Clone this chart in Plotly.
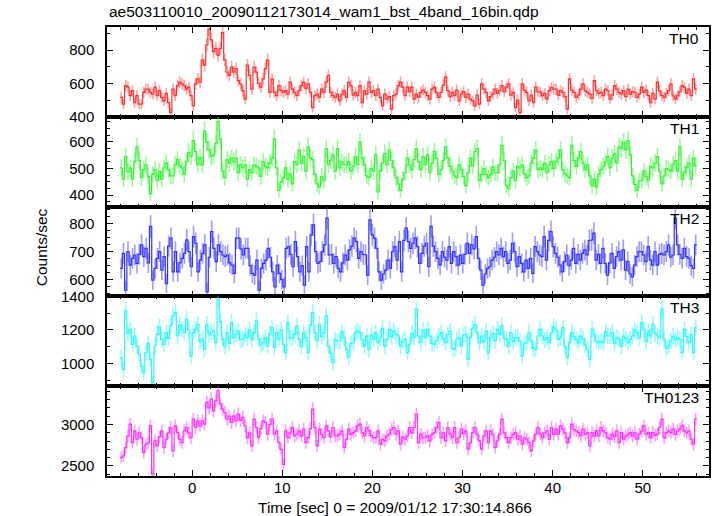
import math
import plotly.graph_objects as go

# ---------------- data (0.25 s bins, -8 s .. 56 s) ----------------
T_START = -8.0
T_END = 56.0
ERR_EXPOSURE = 0.5   # effective exposure (s) used for the Poisson error bars

TH0 = [516, 475, 587, 577, 526, 556, 485, 526, 475, 475,
       546, 566, 566, 546, 536, 577, 526, 556, 516, 495, 540,
       485, 424, 566, 526, 587, 607, 597, 587, 566, 577,
       526, 465, 597, 627, 607, 739, 709, 830, 925, 861,
       790, 810, 769, 810, 905, 739, 668, 648, 698, 668,
       688, 617, 597, 556, 506, 709, 648, 566, 698, 668, 600,
       577, 627, 688, 739, 546, 627, 546, 526, 587, 556,
       546, 556, 536, 607, 566, 546, 526, 556, 587, 607, 570,
       597, 546, 455, 526, 536, 516, 566, 546, 607, 648,
       546, 526, 516, 536, 495, 536, 556, 516, 607, 587, 530,
       546, 526, 587, 485, 556, 536, 607, 546, 556, 526,
       566, 516, 465, 536, 506, 520, 445, 526, 536, 587, 607,
       577,
       526, 577, 550, 577, 506, 535, 516, 546, 560, 546, 526, 505,
       566, 577, 545, 516, 546, 590, 637, 556, 520, 546, 526, 560,
       495, 536, 550, 516, 536, 505, 495, 465, 530, 475, 597, 565,
       546, 495, 520, 536, 566, 540, 556, 587, 550, 577, 597, 530,
       546, 455, 500, 424, 597, 560, 546, 495, 530, 485, 577, 550,
       546, 526, 540, 506, 556, 575, 566, 566, 530, 556, 546, 520,
       445, 627, 560, 546, 516, 530, 566, 597, 555, 546, 536, 510,
       617, 556, 540, 546, 526, 565, 556, 506, 530, 587, 566, 545,
       536, 556, 520, 566, 536, 550, 546, 516, 535, 577, 546, 560,
       526, 485, 540, 506, 607, 555, 526, 516, 540, 556, 597, 525,
       506, 526, 550, 587, 577, 540, 566, 526, 627, 566]

TH1 = [502, 460, 545, 488, 502, 460, 526, 581, 530, 466, 496, 514, 470,
       406, 478, 496, 454, 490, 460, 502, 520, 495, 472, 472, 514, 533, 510,
       502, 478, 526, 560, 545, 605, 563, 514, 540, 514, 641, 599, 570,
       545, 551, 593, 677, 610, 490, 466, 533, 520, 539, 526, 539, 484, 515,
       502, 514, 460, 496, 484, 514, 508, 502, 470, 526, 508, 502, 520,
       539, 611, 502, 418, 450, 466, 502, 460, 480, 442, 526, 514, 569, 520,
       545, 490, 581, 540, 533, 478, 442, 430, 470, 454, 575, 514, 530,
       551, 490, 575, 502, 525, 514, 514, 526, 490, 508, 545, 514, 599, 540,
       514, 472, 466, 500, 490, 551, 412, 490, 520, 557, 514, 569, 530,
       502, 466, 442, 418, 460, 484, 539, 514, 495, 533, 575, 526, 496, 545,
       514, 551, 484, 520, 563, 539, 478, 496, 530, 581, 539, 508, 490,
       472, 466, 514, 496, 470, 436, 484, 539, 510, 563, 575, 454, 478, 500,
       478, 466, 478, 505, 484, 484, 514, 587, 530, 436, 424, 466, 490,
       454, 508, 502, 514, 480, 466, 472, 520, 540, 569, 496, 502, 496, 520,
       484, 514, 526, 500, 526, 539, 569, 496, 480, 472, 466, 587, 530,
       508, 539, 563, 520, 495, 514, 472, 436, 460, 430, 478, 496, 508, 525,
       545, 502, 539, 555, 520, 581, 575, 599, 570, 605, 551, 472, 440,
       418, 454, 454, 490, 470, 454, 508, 502, 520, 545, 490, 442, 472, 500,
       496, 490, 514, 530, 490, 581, 460, 484, 505, 520, 460, 539, 510]

TH2 = [640, 694, 562, 700, 652, 676, 688, 658, 690, 724, 682, 712, 660,
       790, 598, 640, 676, 700, 634, 682, 586, 720, 748, 628, 700, 628, 660,
       676, 694, 742, 700, 646, 754, 730, 628, 670, 694, 724, 556, 680,
       772, 712, 664, 724, 700, 688, 682, 688, 660, 652, 622, 748, 748, 710,
       688, 712, 712, 650, 622, 616, 670, 562, 640, 658, 670, 712, 680,
       628, 574, 652, 622, 600, 574, 712, 718, 690, 646, 736, 682, 628, 650,
       580, 718, 628, 760, 796, 700, 658, 664, 700, 724, 820, 688, 690,
       658, 682, 640, 628, 660, 688, 670, 706, 720, 748, 736, 676, 700, 690,
       688, 616, 814, 760, 748, 712, 628, 598, 620, 634, 670, 640, 700,
       718, 670, 736, 628, 740, 784, 736, 712, 730, 748, 718, 658, 694, 720,
       730, 646, 790, 720, 700, 676, 652, 700, 680, 670, 718, 658, 700,
       682, 652, 688, 658, 690, 730, 694, 724, 710, 754, 676, 634, 580, 620,
       640, 646, 670, 680, 700, 688, 712, 682, 700, 658, 670, 730, 700,
       646, 682, 658, 628, 670, 640, 676, 622, 718, 700, 688, 682, 754, 670, 740,
       772, 718, 694, 680, 652, 628, 664, 688, 650, 670, 712, 658, 690,
       670, 694, 706, 688, 740, 742, 766, 670, 690, 658, 712, 658, 616, 660,
       694, 640, 682, 700, 670, 706, 634, 664, 620, 610, 652, 682, 700,
       700, 688, 664, 718, 670, 652, 700, 652, 690, 694, 688, 700, 724, 680,
       688, 820, 724, 690, 676, 712, 682, 676, 650, 640, 724]

TH3 = [1034, 964, 1314, 1180, 1204, 1114, 1164, 1104, 1060, 984, 944, 1064, 1120,
       1024, 884, 1104, 1174, 1220, 1144, 1114, 1184, 1150, 1224, 1284, 1304, 1164, 1230,
       1204, 1184, 1264, 1200, 1044, 1184, 1204, 1234, 1130, 1144, 1084, 1234, 1170,
       1184, 1194, 1124, 1384, 1250, 1144, 1104, 1184, 1120, 1244, 1154, 1174, 1194, 1140,
       1144, 1174, 1154, 1200, 1144, 1184, 1254, 1144, 1110, 1124, 1154, 1104, 1180,
       1214, 1094, 1184, 1144, 1200, 1114, 1064, 1244, 1150, 1154, 1174, 1224, 1144, 1100,
       1184, 1154, 1064, 1230, 1304, 1184, 1134, 1234, 1160, 1184, 1284, 1104, 1060,
       1004, 1144, 1134, 1134, 1190, 1154, 1084, 1034, 1120, 1124, 1184, 1194, 1184, 1140,
       1104, 1164, 1084, 1170, 1144, 1184, 1124, 1154, 1210, 1104, 1144, 1204, 1160,
       1194, 1174, 1164, 1104, 1130, 1144, 1064, 1114, 1180, 1154, 1324, 1164, 1124, 1200,
       1154, 1204, 1164, 1120, 1114, 1134, 1164, 1184, 1150, 1124, 1174, 1194, 1090,
       1084, 1144, 1154, 1104, 1170, 1174, 1024, 1154, 1210, 1234, 1184, 1124, 1164, 1130,
       1194, 1064, 1154, 1180, 1134, 1204, 1174, 1224, 1150, 1144, 1104, 1184, 1130,
       1154, 1154, 1134, 1044, 1120, 1124, 1184, 1134, 1090, 1084, 1164, 1204, 1164, 1140,
       1154, 1124, 1184, 1220, 1204, 1144, 1154, 1214, 1100, 1034, 1124, 1184, 1160,
       1144, 1124, 1164, 1144, 1110, 1084, 1024, 1204, 1170, 1134, 1124, 1134, 1124, 1190,
       1164, 1164, 1184, 1120, 1154, 1144, 1104, 1164, 1150, 1124, 1144, 1164, 1200,
       1184, 1154, 1244, 1204, 1130, 1194, 1164, 1234, 1180, 1164, 1154, 1324, 1144, 1090,
       1104, 1134, 1164, 1140, 1154, 1144, 1064, 1204, 1160, 1124, 1174, 1064, 1214]

TH0123 = [2601, 2621, 2722, 2860, 3004, 2782, 2923, 2823, 2900, 2843, 2661, 2762, 2780,
          2984, 2400, 2803, 2742, 2850, 2923, 2722, 2823, 2900, 2964, 2682, 2984, 2903, 2820,
          2782, 2923, 2964, 2900, 2843, 3064, 2964, 3044, 2980, 3044, 3004, 3266, 3200,
          3306, 3165, 3286, 3407, 3250, 3185, 3145, 3064, 3100, 3024, 3105, 3044, 3125, 3050,
          3085, 2984, 2843, 2900, 2742, 3064, 2964, 2843, 2950, 3044, 3024, 2883, 3000,
          3064, 2883, 2923, 2782, 2700, 2520, 2923, 2843, 2900, 2964, 2863, 2883, 2923, 2860,
          2944, 2782, 2843, 2950, 3185, 2964, 2742, 2944, 2880, 2843, 2984, 2923, 2850,
          2964, 2863, 2863, 2883, 2920, 2722, 2823, 2944, 2880, 2903, 2923, 2984, 3004, 2900,
          2863, 2964, 2923, 2870, 2843, 2843, 2923, 2762, 2820, 2803, 2863, 2883, 2940,
          2964, 2883, 2923, 2762, 2850, 2823, 2863, 2964, 2900, 2964, 3125, 2782, 2883, 2840,
          2843, 2863, 2803, 2880, 2903, 2964, 3024, 2843, 2900, 2803, 2964, 2883, 2840,
          2964, 2782, 2843, 2944, 2890, 2923, 2702, 2782, 2900, 2964, 2883, 2803, 2702, 2860,
          2923, 2782, 2923, 2880, 2722, 2803, 2883, 3064, 2900, 2843, 2782, 2843, 2880,
          2903, 2823, 2863, 2762, 2840, 2823, 2782, 2682, 2800, 2883, 2964, 2883, 2843, 2900,
          2923, 2823, 2964, 2880, 2944, 2883, 2984, 2944, 2900, 2782, 2843, 3004, 2940,
          2923, 2903, 2863, 2944, 2880, 2903, 2742, 2903, 2860, 2923, 2863, 2964, 2923, 2900,
          2843, 2823, 2883, 2850, 2923, 2782, 2903, 2823, 2860, 2883, 2903, 2863, 2900,
          2823, 2883, 2923, 2984, 2880, 2903, 2843, 2903, 2870, 2883, 2964, 3064, 2843, 2900,
          2923, 2903, 2944, 2880, 2923, 2944, 2984, 2923, 2900, 2923, 2823, 2762, 3064]

PANELS = ["TH0", "TH1", "TH2", "TH3", "TH0123"]
SERIES = [TH0, TH1, TH2, TH3, TH0123]

TITLE = "ae503110010_20090112173014_wam1_bst_4band_16bin.qdp"
XLABEL = "Time [sec] 0 = 2009/01/12 17:30:14.866"
YLABEL = "Counts/sec"

# ---------------- styles ----------------
LINE_COLORS = ["#ff3030", "#33f433", "#3030ff", "#30f8f8", "#ff30ff"]
ERR_COLORS = ["rgba(255,70,70,0.5)", "rgba(60,245,60,0.5)", "rgba(60,60,255,0.5)",
              "rgba(50,248,248,0.5)", "rgba(255,60,255,0.5)"]
Y_RANGES = [[399.5, 938], [357, 694], [540, 861], [864, 1400.5], [2379, 3462]]
Y_DTICK = [200, 100, 100, 200, 500]
Y_MINOR = [100, 25, 25, 100, 100]
X_RANGE = [-9.45, 57.35]
FONT = "Liberation Sans, Arial, Helvetica, sans-serif"

W, H = 717, 516
ML, MR, MT, MB = 107, 6, 27, 40
PH = H - MT - MB

fig = go.Figure()
n_p = len(PANELS)
layout = {}
for i, (name, vals) in enumerate(zip(PANELS, SERIES)):
    sfx = "" if i == 0 else str(i + 1)
    xa, ya = "x" + sfx, "y" + sfx
    bw = (T_END - T_START) / len(vals)
    centers = [T_START + bw * (k + 0.5) for k in range(len(vals))]
    errs = [math.sqrt(v / ERR_EXPOSURE) for v in vals]
    sx, sy = [], []
    for k, v in enumerate(vals):
        left = T_START + bw * k
        sx += [left, left + bw]
        sy += [v, v]
    fig.add_trace(go.Scatter(
        x=centers, y=vals, xaxis=xa, yaxis=ya, mode="markers",
        marker=dict(size=1, color="rgba(0,0,0,0)"),
        error_y=dict(type="data", array=errs, visible=True, color=ERR_COLORS[i],
                     thickness=1.6, width=0),
        hoverinfo="skip", showlegend=False))
    fig.add_trace(go.Scatter(
        x=sx, y=sy, xaxis=xa, yaxis=ya, mode="lines",
        line=dict(color=LINE_COLORS[i], width=1.2),
        hoverinfo="skip", showlegend=False))

    common = dict(showline=True, linecolor="black", linewidth=1.5, mirror="allticks",
                  ticks="inside", ticklen=6, tickwidth=1.2, tickcolor="black",
                  showgrid=False, zeroline=False,
                  tickfont=dict(family=FONT, size=15, color="black"))
    xdict = dict(common, domain=[0, 1], anchor=ya, range=X_RANGE, tick0=0, dtick=10,
                 minor=dict(dtick=2, ticks="inside", ticklen=3, tickcolor="black", tickwidth=1),
                 showticklabels=(i == n_p - 1), ticklabelstandoff=-3)
    if i > 0:
        xdict["matches"] = "x"
    top = 1 - i / n_p
    bot = 1 - (i + 1) / n_p
    ydict = dict(common, domain=[bot, top], anchor=xa, range=Y_RANGES[i], tick0=0,
                 dtick=Y_DTICK[i],
                 minor=dict(dtick=Y_MINOR[i], ticks="inside", ticklen=3, tickcolor="black", tickwidth=1),
                 ticklabelstandoff=8)
    layout["xaxis" + sfx] = xdict
    layout["yaxis" + sfx] = ydict

annotations = []
for i, name in enumerate(PANELS):
    sfx = "" if i == 0 else str(i + 1)
    annotations.append(dict(text=name, xref=("x" + sfx + " domain"), yref=("y" + sfx + " domain"),
                            x=1, y=1, xanchor="right", yanchor="top", xshift=-8, yshift=-1,
                            showarrow=False, font=dict(family=FONT, size=15.5, color="black")))
annotations.append(dict(text=TITLE, xref="paper", yref="paper", x=0, y=1 + (MT - 12) / PH,
                        xanchor="left", yanchor="middle", showarrow=False,
                        font=dict(family=FONT, size=15.5, color="black")))
annotations.append(dict(text=XLABEL, xref="paper", yref="paper", x=0.478, y=-(507 - (H - MB)) / PH,
                        xanchor="center", yanchor="middle", showarrow=False,
                        font=dict(family=FONT, size=15.5, color="black")))
annotations.append(dict(text=YLABEL, xref="paper", yref="paper", x=-(ML - 42) / (W - ML - MR),
                        y=((H - MB) - 247) / PH, xanchor="center", yanchor="middle",
                        textangle=-90, showarrow=False,
                        font=dict(family=FONT, size=15.5, color="black")))

fig.update_layout(width=W, height=H, autosize=False,
                  margin=dict(l=ML, r=MR, t=MT, b=MB),
                  paper_bgcolor="white", plot_bgcolor="white",
                  annotations=annotations, **layout)

fig.write_html("out.html", config={"displayModeBar": False},
               post_script="document.body.style.margin='0px';")
